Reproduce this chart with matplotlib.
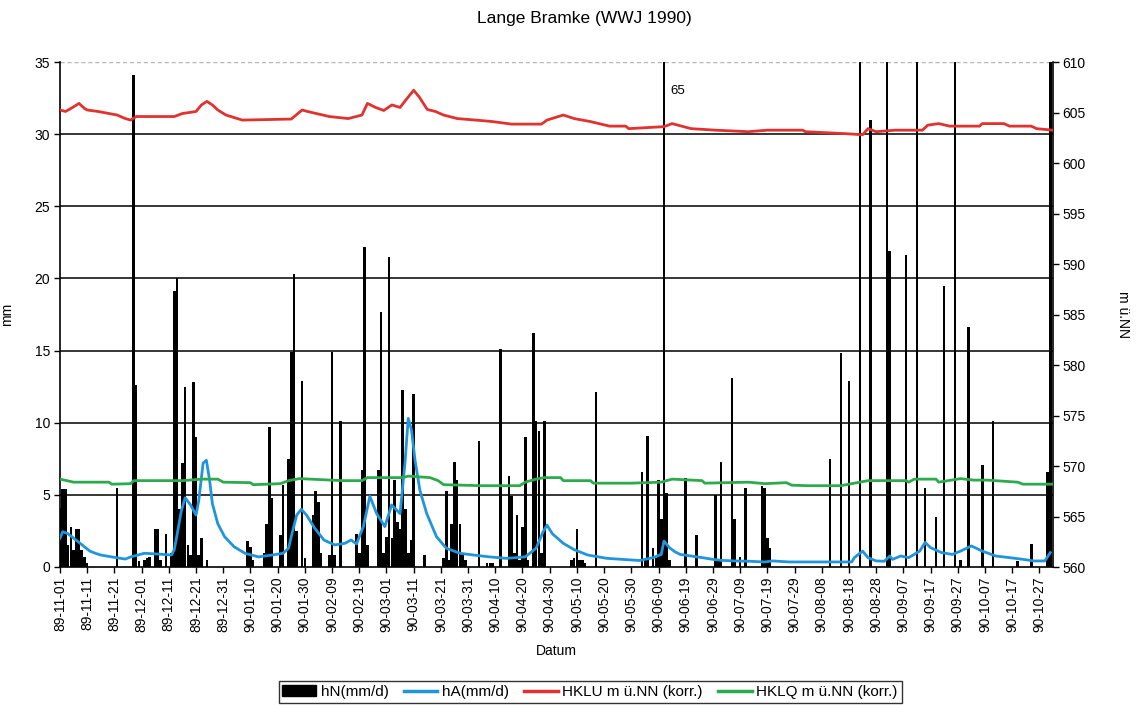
import numpy as np
import matplotlib
matplotlib.use('Agg')
import matplotlib.pyplot as plt
from matplotlib.patches import Patch
from matplotlib.lines import Line2D

plt.rcParams['font.family'] = ['Liberation Sans', 'DejaVu Sans']

# daily precipitation hN (mm/d), 1989-11-01 .. 1990-10-31, rows of 10 days
hN = [
    4.1, 5.4, 5.4, 1.5, 2.8, 1.2, 2.6, 2.6, 1.2, 0.7,
    0.3, 0, 0, 0, 0, 0, 0, 0, 0, 0,
    0, 5.5, 0, 0, 0, 0, 0, 34.1, 12.6, 0.4,
    0, 0.5, 0.6, 0.7, 0, 2.6, 2.6, 0.5, 0, 2.3,
    0, 1.0, 19.1, 20.0, 4.0, 7.2, 12.5, 1.5, 0.8, 12.8,
    9.0, 0.8, 2.0, 0, 0.5, 0, 0, 0, 0, 0,
    0, 0, 0, 0, 0, 0, 0, 0, 0, 1.8,
    1.4, 0.5, 0, 0, 0, 1.0, 3.0, 9.7, 4.8, 0,
    0, 2.2, 5.7, 0, 7.5, 14.9, 20.3, 2.5, 0, 12.9,
    0.6, 0, 0, 3.6, 5.3, 4.5, 1.0, 0, 0, 0.8,
    14.9, 0.8, 0, 10.1, 0, 0, 0, 0, 0, 2.3,
    1.0, 6.7, 22.2, 1.5, 0, 0, 0, 6.7, 17.7, 1.0,
    2.1, 21.5, 2.0, 6.0, 3.1, 2.6, 12.3, 4.0, 1.0, 1.9,
    12.0, 0, 0, 0, 0.8, 0, 0, 0, 0, 0,
    0, 0.6, 5.3, 0.5, 3.0, 7.3, 6.0, 3.0, 1.0, 0.5,
    0, 0, 0, 0, 8.7, 0, 0, 0.3, 0.3, 0.3,
    0, 0, 15.1, 0, 0, 6.3, 4.9, 1.0, 3.6, 0.5,
    2.8, 9.0, 0.5, 0, 16.2, 10.1, 9.4, 1.0, 10.1, 0,
    0, 0, 0, 0, 0, 0, 0, 0, 0.5, 0.6,
    2.6, 0.5, 0.5, 0.3, 0, 0, 0, 12.1, 0, 0,
    0, 0, 0, 0, 0, 0, 0, 0, 0, 0,
    0, 0, 0, 0, 6.6, 0.5, 9.1, 0, 1.3, 0.6,
    6.0, 3.3, 65.0, 5.1, 0.5, 0, 0, 0, 0, 0,
    6.2, 0, 0, 0, 2.2, 0, 0, 0, 0, 0,
    0, 5.0, 0.5, 7.3, 0, 0, 0, 13.1, 3.3, 0,
    0.7, 0, 5.5, 0, 0, 0, 0, 0, 5.6, 5.5,
    2.0, 1.3, 0, 0, 0, 0, 0, 0, 0, 0,
    0, 0, 0, 0, 0, 0, 0, 0, 0, 0,
    0, 0, 0, 7.5, 0, 0, 0, 14.8, 0, 0,
    12.9, 0, 0, 0, 40.0, 0, 0, 0, 31.0, 0,
    0, 0, 0, 0, 45.0, 21.9, 0, 0, 0, 0,
    0, 21.6, 0, 0, 0, 40.0, 0, 0, 5.5, 0,
    0, 0, 3.5, 0, 0, 19.5, 0, 0, 0, 40.0,
    0, 0.5, 0, 0, 16.6, 0, 0, 0, 0, 7.1,
    0, 0, 0, 10.1, 0, 0, 0, 0, 0, 0,
    0, 0, 0.4, 0, 0, 0, 0, 1.6, 0, 0,
    0, 0, 0, 6.6, 40.0,
]

# runoff hA (mm/d) read at day positions
hA_day = [0, 1, 3, 5, 7, 9, 11, 13, 15, 19, 24, 26, 31, 36, 41, 42, 43, 44.6, 46, 48,
          50, 51, 52.6, 53.8, 55, 56, 58, 60.5, 64, 68, 73, 78, 82, 84, 85, 87, 88.7, 90.6, 93.6, 97,
          101, 104.7, 107, 109, 111.5, 113.9, 116.4, 119.4, 121.9, 125, 126.8, 128, 129.2, 130.5, 132.3, 134.8, 138.4, 142, 147, 152,
          158, 164, 171, 175, 177.6, 179, 181, 185, 189, 194, 201, 213, 218, 221, 222, 224, 226, 228, 232, 236,
          240, 243, 248, 253, 259, 262, 268, 280, 291, 292, 295, 297, 300, 303, 305, 306, 309, 312, 316, 318,
          320, 324, 328, 331, 335, 339, 344, 349, 354, 358, 362, 364]
hA_val = [2.0, 2.45, 2.3, 2.0, 1.7, 1.4, 1.1, 0.95, 0.83, 0.7, 0.55, 0.7, 0.95, 0.9, 0.83, 1.2, 2.2, 3.9, 4.8, 4.3,
          3.6, 4.6, 7.2, 7.4, 6.0, 4.4, 3.0, 2.1, 1.4, 0.95, 0.7, 0.83, 0.95, 1.3, 2.1, 3.6, 4.0, 3.6, 2.7, 1.87,
          1.53, 1.64, 1.87, 1.6, 2.8, 4.9, 3.7, 2.8, 4.3, 3.7, 7.2, 10.3, 9.5, 7.4, 5.3, 3.7, 2.1, 1.3, 0.95, 0.83,
          0.7, 0.6, 0.7, 1.3, 2.45, 2.9, 2.3, 1.64, 1.2, 0.83, 0.6, 0.45, 0.65, 0.87, 1.8, 1.34, 1.06, 0.87, 0.76, 0.65,
          0.53, 0.46, 0.42, 0.4, 0.35, 0.42, 0.35, 0.35, 0.35, 0.65, 1.1, 0.65, 0.42, 0.4, 0.76, 0.53, 0.76, 0.65, 1.1, 1.7,
          1.34, 1.0, 0.87, 1.1, 1.46, 1.1, 0.76, 0.65, 0.53, 0.42, 0.42, 1.0]

# HKLU water level (m ü.NN)
hklu_day = [0, 2, 4, 7, 9, 10, 14, 18, 21, 24, 26, 28, 42, 45, 50, 52, 54, 56, 58, 61,
            67, 85, 89, 91, 95, 99, 106, 111, 113, 116, 119, 122, 125, 127, 130, 132, 135, 138, 141, 146,
            155, 159, 166, 177, 179, 185, 189, 195, 202, 208, 209, 222, 225, 232, 241, 253, 260, 273, 274, 289,
            295, 297, 300, 307, 317, 319, 323, 327, 338, 339, 347, 349, 357, 359, 365]
hklu_val = [605.25, 605.1, 605.4, 605.9, 605.4, 605.25, 605.1, 604.9, 604.75, 604.4, 604.25, 604.6, 604.6, 604.9, 605.1, 605.75, 606.1, 605.75, 605.25, 604.75,
            604.25, 604.35, 605.25, 605.1, 604.85, 604.6, 604.4, 604.75, 605.9, 605.5, 605.2, 605.75, 605.5, 606.2, 607.2, 606.55, 605.3, 605.1, 604.75, 604.4,
            604.2, 604.1, 603.85, 603.85, 604.25, 604.75, 604.4, 604.1, 603.65, 603.65, 603.4, 603.6, 603.9, 603.4, 603.25, 603.1, 603.25, 603.25, 603.1, 602.9,
            602.8, 603.4, 603.1, 603.25, 603.25, 603.75, 603.9, 603.65, 603.65, 603.9, 603.9, 603.65, 603.65, 603.4, 603.25]

# HKLQ water level (m ü.NN)
hklq_day = [0, 5, 18, 19, 26, 27, 45, 52, 58, 60, 70, 71, 81, 84, 88, 104, 111, 113, 126, 128,
            136, 139, 141, 155, 169, 171, 175, 178, 184, 185, 195, 196, 210, 221, 225, 236, 237, 253, 259, 267,
            269, 275, 287, 293, 297, 311, 312, 314, 322, 323, 331, 336, 341, 352, 354, 365]
hklq_val = [568.7, 568.4, 568.4, 568.2, 568.25, 568.55, 568.55, 568.7, 568.7, 568.4, 568.35, 568.15, 568.25, 568.55, 568.75, 568.55, 568.55, 568.85, 568.85, 569.0,
            568.85, 568.55, 568.15, 568.05, 568.05, 568.4, 568.7, 568.85, 568.85, 568.55, 568.55, 568.3, 568.3, 568.4, 568.7, 568.55, 568.3, 568.4, 568.25, 568.35,
            568.1, 568.05, 568.05, 568.35, 568.55, 568.55, 568.4, 568.7, 568.7, 568.4, 568.75, 568.6, 568.6, 568.4, 568.2, 568.2]

date_labels = ["89-11-01", "89-11-11", "89-11-21", "89-12-01", "89-12-11", "89-12-21", "89-12-31",
               "90-01-10", "90-01-20", "90-01-30", "90-02-09", "90-02-19", "90-03-01", "90-03-11",
               "90-03-21", "90-03-31", "90-04-10", "90-04-20", "90-04-30", "90-05-10", "90-05-20",
               "90-05-30", "90-06-09", "90-06-19", "90-06-29", "90-07-09", "90-07-19", "90-07-29",
               "90-08-08", "90-08-18", "90-08-28", "90-09-07", "90-09-17", "90-09-27", "90-10-07",
               "90-10-17", "90-10-27"]

left_ticks = [0, 5, 10, 15, 20, 25, 30, 35]
right_ticks = [560, 565, 570, 575, 580, 585, 590, 595, 600, 605, 610]

C_BLUE = '#1f95dd'
C_RED = '#e0322f'
C_GREEN = '#2eaa4e'

W, H = 1137, 705
fig = plt.figure(figsize=(W / 100, H / 100), dpi=100)
ax = fig.add_axes([60 / W, 1 - 567 / H, (1053 - 60) / W, (567 - 62) / H])

days = np.arange(len(hN))
ax.bar(days, hN, width=0.95, color='black', zorder=2, linewidth=0)
ax.plot(hA_day, hA_val, color=C_BLUE, lw=2.0, zorder=3)

ax.set_xlim(0, 365)
ax.set_ylim(0, 35)
ax.set_yticks(left_ticks)
for v in left_ticks[1:-1]:
    ax.axhline(v, color='black', lw=1.1, zorder=1)
ax.axhline(35, color='#b5b5b5', lw=1.0, ls=(0, (3, 2)), zorder=1)

ax.set_xticks(np.arange(0, 361, 10))
ax.set_xticklabels(date_labels, rotation=90)
ax.tick_params(axis='x', length=4, width=1, labelsize=10, pad=3)
ax.tick_params(axis='y', length=4, width=1, labelsize=10, pad=3)
for s in ['top', 'right']:
    ax.spines[s].set_visible(False)
for s in ['left', 'bottom']:
    ax.spines[s].set_linewidth(1.2)

ax.text(222.5 + 2.0, 33.0, '65', fontsize=9.5, ha='left', va='center')

ax2 = ax.twinx()
ax2.plot(hklq_day, hklq_val, color=C_GREEN, lw=2.0, zorder=3)
ax2.plot(hklu_day, hklu_val, color=C_RED, lw=2.0, zorder=3)
ax2.set_ylim(560, 610)
ax2.set_yticks(right_ticks)
ax2.tick_params(axis='y', length=4, width=1, labelsize=10, pad=3)
for s in ['top', 'left', 'bottom']:
    ax2.spines[s].set_visible(False)
ax2.spines['right'].set_linewidth(1.2)

ax.set_ylabel('mm', fontsize=10)
ax.yaxis.set_label_coords((14 - 60) / 993, 0.5)
ax2.set_ylabel('m ü.NN', fontsize=10, rotation=270, va='center')
ax2.yaxis.set_label_coords((1123 - 60) / 993, 0.5)
ax.set_xlabel('Datum', fontsize=10, labelpad=8)

fig.text(0.514, 1 - 18 / H, 'Lange Bramke (WWJ 1990)', ha='center', va='center', fontsize=12.5)

handles = [Patch(facecolor='black', edgecolor='black'),
           Line2D([], [], color=C_BLUE, lw=2.5),
           Line2D([], [], color=C_RED, lw=2.5),
           Line2D([], [], color=C_GREEN, lw=2.5)]
labels = ['hN(mm/d)', 'hA(mm/d)', 'HKLU m ü.NN (korr.)', 'HKLQ m ü.NN (korr.)']
leg = fig.legend(handles, labels, ncol=4, loc='lower center', bbox_to_anchor=(590 / W, -0.008),
                 fontsize=11, frameon=True, fancybox=False, edgecolor='black',
                 handlelength=2.2, handletextpad=0.3, columnspacing=1.0, borderpad=0.25)
leg.get_frame().set_linewidth(1.0)

fig.savefig('out.png', dpi=100)
